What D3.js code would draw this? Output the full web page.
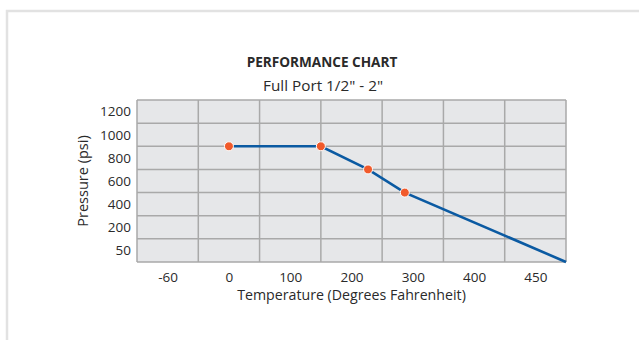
<!DOCTYPE html>
<html>
<head>
<meta charset="utf-8">
<script src="https://cdn.jsdelivr.net/npm/d3@7"></script>
<style>
  html, body { margin: 0; padding: 0; background: #fff; }
  svg { display: block; }
  text { font-family: "Open Sans", "Noto Sans", sans-serif; fill: #2a2a2a; }
</style>
</head>
<body>
<svg id="chart" width="639" height="340"></svg>
<script>
// ---- data ----
const title = "PERFORMANCE CHART";
const subtitle = "Full Port 1/2\" - 2\"";
const xTitle = "Temperature (Degrees Fahrenheit)";
const yTitle = "Pressure (psi)";
const xTickLabels = [-60, 0, 100, 200, 300, 400, 450];
const yTickLabels = [50, 200, 400, 600, 800, 1000, 1200];
const xEdges = [-90, 475];   // temperature at plot left / right edge
const yEdges = [0, 1300];    // pressure at plot bottom / top edge
const temperature = [0, 150, 227, 287, 475];
const pressure    = [900, 900, 700, 500, 0];
const markerTemps = [0, 150, 227, 287];
const markerPress = [900, 900, 700, 500];

// ---- layout ----
const svg = d3.select("#chart");
const W = 639, H = 340;
const plot = { left: 137, right: 566, top: 100, bottom: 262 };

// page frame
svg.append("path")
  .attr("d", `M7,${H} L7,11 L${W},11`)
  .attr("fill", "none").attr("stroke", "#e2e2e2").attr("stroke-width", 2.5);

// polylinear scales: each tick label sits in the centre of its own cell
const nx = xTickLabels.length, ny = yTickLabels.length;
const cw = (plot.right - plot.left) / nx;
const ch = (plot.bottom - plot.top) / ny;
const x = d3.scaleLinear()
  .domain([xEdges[0], ...xTickLabels, xEdges[1]])
  .range([plot.left, ...xTickLabels.map((d, i) => plot.left + (i + 0.5) * cw), plot.right]);
const y = d3.scaleLinear()
  .domain([yEdges[0], ...yTickLabels, yEdges[1]])
  .range([plot.bottom, ...yTickLabels.map((d, i) => plot.bottom - (i + 0.5) * ch), plot.top]);

// grid values: cell boundaries = midpoints between ticks, plus edges
const xGrid = [xEdges[0], ...d3.pairs(xTickLabels).map(([a, b]) => (a + b) / 2), xEdges[1]];
const yGrid = [yEdges[0], ...d3.pairs(yTickLabels).map(([a, b]) => (a + b) / 2), yEdges[1]];

// plot background
svg.append("rect")
  .attr("x", plot.left).attr("y", plot.top)
  .attr("width", plot.right - plot.left).attr("height", plot.bottom - plot.top)
  .attr("fill", "#e6e7e9");

const grid = svg.append("g").attr("stroke", "#a9a9a9").attr("stroke-width", 1.5);
grid.selectAll("line.v").data(xGrid).join("line")
  .attr("x1", d => x(d)).attr("x2", d => x(d))
  .attr("y1", plot.top).attr("y2", plot.bottom);
grid.selectAll("line.h").data(yGrid).join("line")
  .attr("y1", d => y(d)).attr("y2", d => y(d))
  .attr("x1", plot.left).attr("x2", plot.right);

// axes (labels only)
const fmt = d => String(d);
const xAxis = svg.append("g")
  .attr("transform", `translate(0,${plot.bottom})`)
  .call(d3.axisBottom(x).tickValues(xTickLabels).tickFormat(fmt).tickSize(0).tickPadding(10));
const yAxis = svg.append("g")
  .attr("transform", `translate(${plot.left},0)`)
  .call(d3.axisLeft(y).tickValues(yTickLabels).tickFormat(fmt).tickSize(0).tickPadding(6));
[xAxis, yAxis].forEach(g => {
  g.select(".domain").remove();
  g.attr("font-family", null).attr("font-size", null);
  g.selectAll("text").style("font-size", "13.5px").attr("fill", "#2a2a2a");
});

// line
const pts = temperature.map((t, i) => [t, pressure[i]]);
svg.append("path")
  .datum(pts)
  .attr("fill", "none")
  .attr("stroke", "#0b5aa2")
  .attr("stroke-width", 2.6)
  .attr("d", d3.line().x(d => x(d[0])).y(d => y(d[1])));

// markers
svg.selectAll("circle.m")
  .data(markerTemps.map((t, i) => [t, markerPress[i]]))
  .join("circle")
  .attr("cx", d => x(d[0])).attr("cy", d => y(d[1]))
  .attr("r", 4.5)
  .attr("fill", "#f15a2b")
  .attr("stroke", "#ffffff").attr("stroke-width", 1);

// titles
svg.append("text").attr("x", 322).attr("y", 67)
  .attr("text-anchor", "middle").style("font-weight", "700").style("font-size", "13.6px")
  .text(title);
svg.append("text").attr("x", 323).attr("y", 91)
  .attr("text-anchor", "middle").style("font-size", "15.3px")
  .text(subtitle);
svg.append("text").attr("x", (plot.left + plot.right) / 2).attr("y", 300)
  .attr("text-anchor", "middle").style("font-size", "14.2px")
  .text(xTitle);
svg.append("text")
  .attr("transform", `translate(88,${(plot.top + plot.bottom) / 2}) rotate(-90)`)
  .attr("text-anchor", "middle").style("font-size", "14.5px")
  .text(yTitle);
</script>
</body>
</html>
